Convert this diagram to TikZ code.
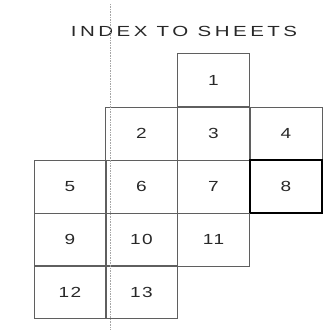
\documentclass[tikz,border=0pt]{standalone}
\usepackage{fontspec}
\setmainfont{Liberation Sans}
\usepackage{tikz}
\usetikzlibrary{positioning}
\definecolor{sheetline}{RGB}{95,95,95}
\definecolor{sheetink}{RGB}{40,40,40}
\tikzset{
  sheet/.style={rectangle, draw=sheetline, line width=0.5pt,
    minimum width=2.16cm, minimum height=1.59cm, inner sep=0pt,
    font=\fontsize{12.5}{13}\selectfont\addfontfeatures{FakeStretch=1.3,LetterSpace=10}\color{sheetink}},
  cursheet/.style={sheet, draw=black, line width=1.6pt},
  crease/.style={draw=black!35, densely dotted, line width=0.4pt}
}

\begin{document}
\begin{tikzpicture}[x=0.03cm, y=-0.03cm]
  \useasboundingbox (0,0) rectangle (332,329);

  % Title
  \node[font=\fontsize{12.5}{13}\selectfont\addfontfeatures{FakeStretch=1.4,LetterSpace=24}\color{sheetink}] (title) at (184,31) {INDEX TO SHEETS};

  % Row 1
  \node[sheet] (s1) at (213.5,80) {1};

  % Row 2
  \node[sheet] (s2) at (141.5,133.5) {2};
  \node[sheet] (s3) at (213.5,133.5) {3};
  \node[sheet] (s4) at (286,133.5) {4};

  % Row 3 (sheet 8 outlined)
  \node[sheet] (s5) at (70,186.5) {5};
  \node[sheet] (s6) at (141.5,186.5) {6};
  \node[sheet] (s7) at (213.5,186.5) {7};
  \node[cursheet] (s8) at (286,186.5) {8};

  % Row 4
  \node[sheet] (s9) at (70,239.5) {9};
  \node[sheet] (s10) at (141.5,239.5) {10};
  \node[sheet] (s11) at (213.5,239.5) {11};

  % Row 5
  \node[sheet] (s12) at (70,292) {12};
  \node[sheet] (s13) at (141.5,292) {13};

  % Fold crease
  \coordinate (creasetop) at (110,4);
  \coordinate (creasebot) at (110,329);
  \draw[crease] (creasetop) -- (creasebot);
\end{tikzpicture}
\end{document}
